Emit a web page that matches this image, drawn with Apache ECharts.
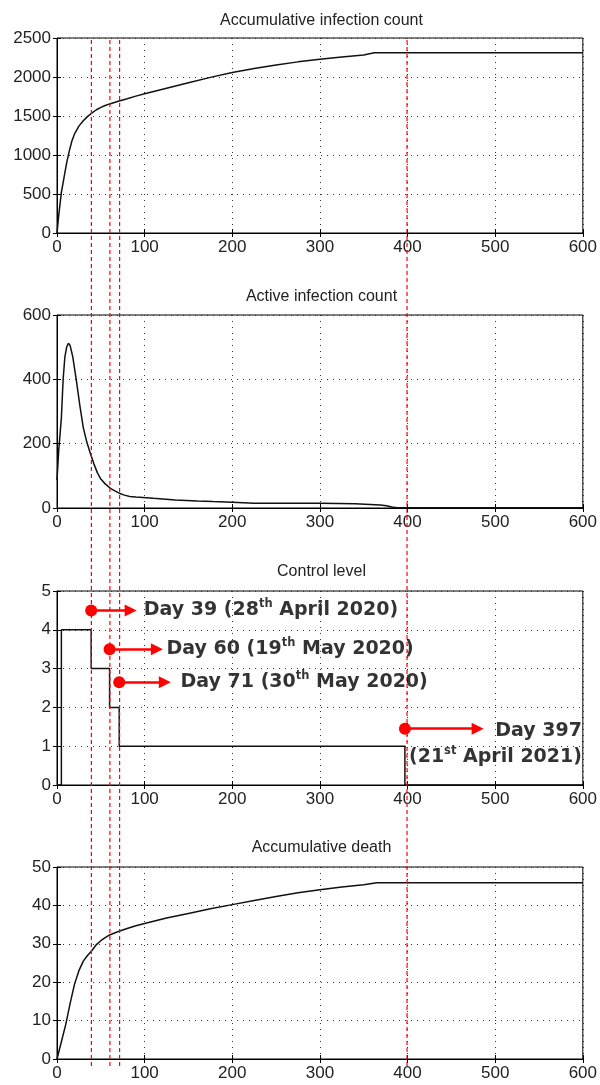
<!DOCTYPE html>
<html>
<head>
<meta charset="utf-8">
<script src="https://cdn.jsdelivr.net/npm/echarts@6/dist/echarts.min.js"></script>
<style>
  html, body { margin: 0; padding: 0; background: #fff; }
  #chart { width: 600px; height: 1085px; }
</style>
</head>
<body>
<div id="chart"></div>
<script>
// ---------- data ----------
const panelTitles = ['Accumulative infection count', 'Active infection count', 'Control level', 'Accumulative death'];

const cumDays = [0,2,5,8,11,14,17,20,25,30,35,40,45,50,55,60,70,80,90,100,125,150,175,200,225,250,275,300,325,350,362,400,500,600];
const cumInfection = [0,230,520,710,900,1050,1180,1270,1370,1440,1495,1540,1580,1610,1635,1655,1690,1720,1755,1785,1855,1925,1995,2058,2108,2155,2194,2228,2256,2283,2310,2310,2310,2310];

const activeDays = [0,2,5,7,9,11,13,15,18,22,26,30,34,38,42,46,50,55,61,66,71,77,83,90,98,110,135,160,178,200,225,260,300,340,369,376,382,388,400,500,600];
const activeInfection = [87,180,280,400,470,500,512,505,470,398,320,250,205,170,138,110,90,75,61,53,46,40,36,34,33,30,25,22,20,18,15,15,15,13,9,7,3,1,1,1,1];

const controlDays = [0,5,39,60,71,397,600];
const controlLevel = [0,4,3,2,1,0,0];

const deathDays = [0,5,10,15,20,25,30,35,39,45,50,55,60,70,80,90,100,125,150,175,200,225,250,275,300,325,350,365,400,500,600];
const cumDeath = [0,4.5,9,14.5,19.5,23,25.5,27,28,29.8,30.8,31.6,32.3,33.2,34,34.7,35.3,36.7,37.9,39.1,40.2,41.3,42.3,43.3,44.1,44.8,45.4,45.9,45.9,45.9,45.9];

const eventDays = [39, 60, 71, 397];
const eventArrowY = [4.5, 3.5, 2.65, 1.45];
const eventArrowEnd = [84, 114, 123, 480];
const eventTextX = [99, 125, 141];
const eventText = [
  'Day 39 (28{s|th} April 2020)',
  'Day 60 (19{s|th} May 2020)',
  'Day 71 (30{s|th} May 2020)'
];
const lastTextX = 599;
const lastTextY = [1.38, 0.71];
const lastText = ['Day 397', '(21{s|st} April 2021)'];

const yRanges = [[0, 2500, 500], [0, 600, 200], [0, 5, 1], [0, 50, 10]];
// ---------- layout ----------
const gridTops = [38, 315, 591, 867];
const gridBottoms = [233, 508, 785, 1059];
const titleCenters = [22, 298, 573, 849];
const L = 57, R = 14, H = 1085;

const labelFont = { color: '#222', fontSize: 17, fontFamily: 'Liberation Sans' };
const dotted = { color: '#333', type: [1, 5], width: 1 };
const plain = v => String(v);

const grids = [], xAxes = [], yAxes = [], titles = [], series = [];
for (let i = 0; i < 4; i++) {
  grids.push({ left: L, right: R, top: gridTops[i], height: gridBottoms[i] - gridTops[i],
    show: true, borderColor: '#000', borderWidth: 1 });
  xAxes.push({ gridIndex: i, type: 'value', min: 0, max: 600, interval: 100, position: 'bottom',
    axisLine: { show: true, onZero: false, lineStyle: { color: '#000', width: 1 } },
    axisTick: { show: true, inside: true, length: 4, lineStyle: { color: '#000' } },
    axisLabel: Object.assign({ margin: 6, formatter: plain }, labelFont),
    splitLine: { show: true, lineStyle: dotted } });
  xAxes.push({ gridIndex: i, type: 'value', min: 0, max: 600, interval: 100, position: 'top',
    axisLine: { show: false }, axisLabel: { show: false }, splitLine: { show: false },
    axisTick: { show: true, inside: true, length: 4, lineStyle: { color: '#000' } } });
  const [mn, mx, iv] = yRanges[i];
  yAxes.push({ gridIndex: i, type: 'value', min: mn, max: mx, interval: iv, position: 'left',
    axisLine: { show: true, onZero: false, lineStyle: { color: '#000', width: 1 } },
    axisTick: { show: true, inside: true, length: 4, lineStyle: { color: '#000' } },
    axisLabel: Object.assign({ margin: 6, formatter: plain }, labelFont),
    splitLine: { show: true, lineStyle: dotted } });
  yAxes.push({ gridIndex: i, type: 'value', min: mn, max: mx, interval: iv, position: 'right',
    axisLine: { show: false }, axisLabel: { show: false }, splitLine: { show: false },
    axisTick: { show: true, inside: true, length: 4, lineStyle: { color: '#000' } } });
  titles.push({ text: panelTitles[i], left: L + (600 - L - R) / 2, top: titleCenters[i] - 9, textAlign: 'center', padding: 0,
    textStyle: { color: '#222', fontSize: 16, fontWeight: 'normal', fontFamily: 'Liberation Sans' } });
}
// overlay grid for the red dashed event lines
grids.push({ left: L, right: R, top: gridTops[0], bottom: H - 1066, show: false });
xAxes.push({ gridIndex: 4, type: 'value', min: 0, max: 600, show: false });
yAxes.push({ gridIndex: 4, type: 'value', min: 0, max: 1, show: false });

const lineStyleBlack = { color: '#111', width: 1.5 };
const zip = (a, b) => a.map((v, k) => [v, b[k]]);
series.push({ type: 'line', xAxisIndex: 0, yAxisIndex: 0, data: zip(cumDays, cumInfection), symbol: 'none', lineStyle: lineStyleBlack, silent: true });
series.push({ type: 'line', xAxisIndex: 2, yAxisIndex: 2, data: zip(activeDays, activeInfection), symbol: 'none', lineStyle: lineStyleBlack, silent: true });
series.push({ type: 'line', xAxisIndex: 4, yAxisIndex: 4, data: zip(controlDays, controlLevel), step: 'end', symbol: 'none', lineStyle: lineStyleBlack, silent: true });
series.push({ type: 'line', xAxisIndex: 6, yAxisIndex: 6, data: zip(deathDays, cumDeath), symbol: 'none', lineStyle: lineStyleBlack, silent: true });

// red dashed vertical lines across all panels (one series per event day)
eventDays.forEach(d => {
  series.push({ type: 'line', xAxisIndex: 8, yAxisIndex: 8, data: [[d, 0], [d, 1]], symbol: 'none', silent: true, z: 5,
    itemStyle: { color: '#ff0000' },
    lineStyle: { color: '#ff0000', type: [4, 3], width: 1.2, opacity: 1 } });
});

const richStyle = {
  s: { fontSize: 11.5, fontWeight: 'bold', fontFamily: 'DejaVu Sans', color: '#000', verticalAlign: 'top', lineHeight: 16 }
};
const annFont = { color: '#000', fontSize: 19, fontWeight: 'bold', fontFamily: 'DejaVu Sans', lineHeight: 24, rich: richStyle };

// arrows + annotations in the control level panel
const annData = [];
for (let k = 0; k < 3; k++) {
  annData.push({ value: [eventTextX[k], eventArrowY[k]],
    label: Object.assign({ show: true, position: 'right', distance: 0, formatter: eventText[k] }, annFont) });
}
for (let k = 0; k < 2; k++) {
  annData.push({ value: [lastTextX, lastTextY[k]],
    label: Object.assign({ show: true, position: 'left', distance: 0, formatter: lastText[k] }, annFont) });
}
series.push({ type: 'scatter', xAxisIndex: 4, yAxisIndex: 4, symbolSize: 0, silent: true, z: 6,
  data: annData,
  markLine: { silent: true, animation: false, symbol: ['circle', 'triangle'], symbolSize: [12, 12],
    label: { show: false },
    lineStyle: { color: '#ff0000', type: 'solid', width: 2.5 },
    data: eventDays.map((d, k) => [
      { coord: [d, eventArrowY[k]], itemStyle: { color: '#ff0000' } },
      { coord: [eventArrowEnd[k], eventArrowY[k]] }
    ]) } });

const chart = echarts.init(document.getElementById('chart'), null, { renderer: 'canvas' });
chart.setOption({
  animation: false,
  backgroundColor: '#fff',
  title: titles,
  grid: grids,
  xAxis: xAxes,
  yAxis: yAxes,
  series: series
});
</script>
</body>
</html>
